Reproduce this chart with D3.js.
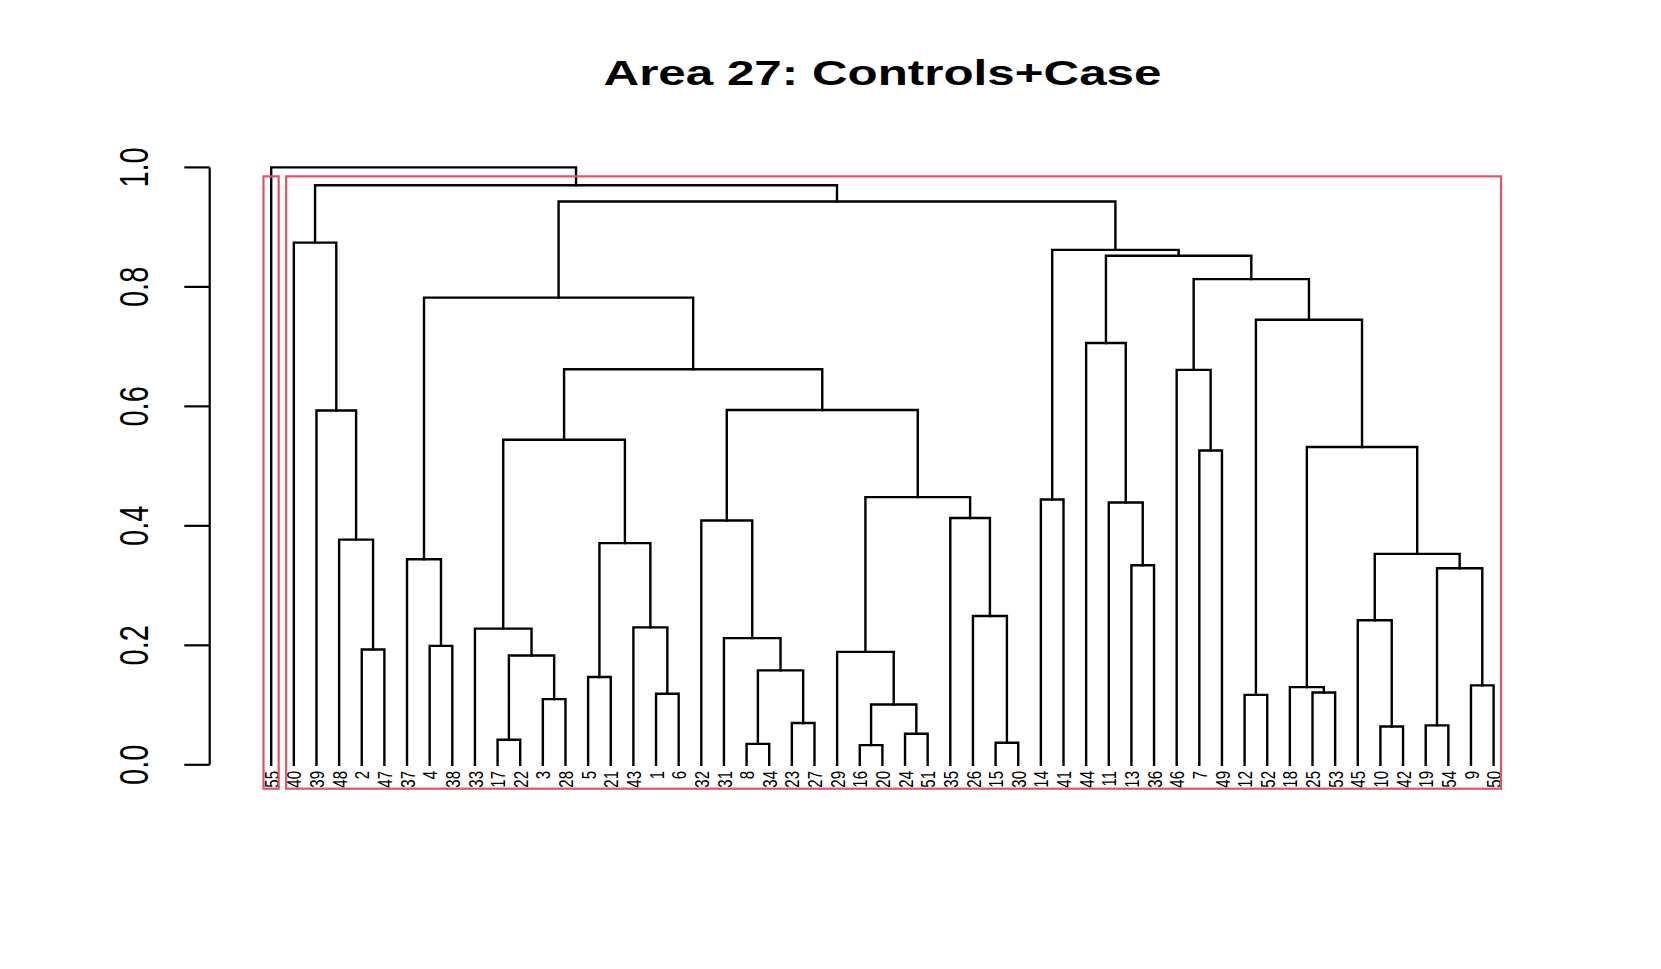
<!DOCTYPE html>
<html>
<head>
<meta charset="utf-8">
<script src="https://cdn.jsdelivr.net/npm/d3@7/dist/d3.min.js"></script>
<style>
  html, body { margin: 0; padding: 0; background: #fff; }
  svg { display: block; }
  text { font-family: "Liberation Sans", Arial, Helvetica, sans-serif; fill: #000; }
</style>
</head>
<body>
<svg id="chart" width="1661" height="969"></svg>
<script>
// leaves in the order they are drawn, left to right
const leafOrder = [55, 40, 39, 48, 2, 47, 37, 4, 38, 33, 17, 22, 3, 28, 5, 21, 43, 1, 6,
  32, 31, 8, 34, 23, 27, 29, 16, 20, 24, 51, 35, 26, 15, 30, 14, 41, 44, 11, 13, 36,
  46, 7, 49, 12, 52, 18, 25, 53, 45, 10, 42, 19, 54, 9, 50];

// hclust style merges: negative = leaf label, positive = earlier merge (1-based)
const mergeLeft = [-16, -17, -8, -15, -24, -10, -19, -23, -3, -12, -1, -25, -18, -9, -5,
  3, 2, 1, -29, -2, -4, -31, -33, -43, -45, -26, 7, -13, -37, 25, 15, -48, -32, -35,
  -11, -14, 19, -7, 13, 23, -39, 33, -46, 40, -44, 10, 29, 43, 45, 36, -40, 47, 51, -55];
const mergeRight = [-20, -22, -34, -30, -51, -42, -54, -27, -28, -52, -6, -53, 12, -50, -21,
  8, 9, 5, 18, -47, -38, 16, 17, 11, 6, 4, 14, -36, 21, 27, 24, 20, 22, 26,
  28, -41, 34, -49, 30, 31, 32, 37, 38, 42, 35, 39, 44, 46, 48, 49, 41, 50, 52, 53];
const mergeHeight = [0.033, 0.042, 0.035, 0.037, 0.052, 0.064, 0.066, 0.070, 0.110, 0.117,
  0.119, 0.121, 0.130, 0.133, 0.147, 0.158, 0.183, 0.101, 0.189, 0.193, 0.199, 0.212,
  0.228, 0.230, 0.242, 0.249, 0.329, 0.334, 0.344, 0.353, 0.371, 0.377, 0.409, 0.413,
  0.439, 0.444, 0.448, 0.526, 0.532, 0.544, 0.593, 0.594, 0.661, 0.662, 0.706, 0.745,
  0.782, 0.813, 0.852, 0.862, 0.874, 0.943, 0.970, 1.000];

const yTicks = [0, 0.2, 0.4, 0.6, 0.8, 1.0];
const title = 'Area 27: Controls+Case';
const nClusters = 2;

// the reference is stretched sideways, so text gets a horizontal scale
const stretch = 1.4;

const svg = d3.select('#chart');

const xScale = d3.scaleLinear().domain([1, leafOrder.length]).range([271.2, 1493.6]);
const yScale = d3.scaleLinear().domain([0, 1]).range([764.8, 167.4]);
const plotBottom = yScale(-0.04);

// leaf positions (1-based slot in leafOrder)
const leafPos = new Map(leafOrder.map((lab, i) => [lab, i + 1]));

// node positions, computed bottom-up like plot.hclust
const nodes = [];
const refPos = (r) => r < 0 ? { x: leafPos.get(-r), h: 0 } : nodes[r - 1];

mergeHeight.forEach((h, i) => {
  const a = refPos(mergeLeft[i]);
  const b = refPos(mergeRight[i]);
  nodes.push({ x: (a.x + b.x) / 2, h, left: a, right: b });
});

const pathFn = (n) => {
  const y = yScale(n.h);
  return `M${xScale(n.left.x)},${yScale(n.left.h)}V${y}H${xScale(n.right.x)}V${yScale(n.right.h)}`;
};

svg.append('g')
  .attr('class', 'tree')
  .selectAll('path')
  .data(nodes)
  .join('path')
  .attr('d', pathFn)
  .attr('fill', 'none')
  .attr('stroke', '#000')
  .attr('stroke-width', 2.4)
  .attr('stroke-linecap', 'square');

// leaf labels, rotated to read bottom-up
svg.append('g')
  .attr('class', 'labels')
  .selectAll('text')
  .data(leafOrder)
  .join('text')
  .attr('transform', (d, i) => `translate(${xScale(i + 1)},771) scale(${stretch},1) rotate(-90)`)
  .attr('text-anchor', 'end')
  .attr('dy', '0.36em')
  .attr('font-size', 15)
  .text((d) => d);

// rect.hclust style boxes around the top k clusters
const sorted = mergeHeight.slice().sort((a, b) => a - b);
const n = sorted.length;
const cutTop = (sorted[n - nClusters] + sorted[n - nClusters + 1]) / 2;
const root = nodes[nodes.length - 1];
const groups = [];
const collect = (node, k) => {
  if (k > 1 && node.h > 0 && node.h > sorted[n - nClusters]) {
    collect(node.left, k - 1);
    collect(node.right, k - 1);
  } else {
    groups.push(node);
  }
};
collect(root, nClusters);

// leaf span of each group
const span = (node) => node.h === 0 || !node.left
  ? [node.x, node.x]
  : [span(node.left)[0], span(node.right)[1]];

svg.append('g')
  .attr('class', 'clusters')
  .selectAll('rect')
  .data(groups.map(span))
  .join('rect')
  .attr('x', (d) => xScale(d[0] - 0.34))
  .attr('y', yScale(cutTop))
  .attr('width', (d) => xScale(d[1] + 0.33) - xScale(d[0] - 0.34))
  .attr('height', plotBottom - yScale(cutTop))
  .attr('fill', 'none')
  .attr('stroke', '#DF536B')
  .attr('stroke-width', 2.2);

// y axis, R style
const axisX = 209.7;
const yAxis = svg.append('g').attr('class', 'y-axis');
yAxis.append('line')
  .attr('x1', axisX).attr('x2', axisX)
  .attr('y1', yScale(0)).attr('y2', yScale(1))
  .attr('stroke', '#000').attr('stroke-width', 2.2);
yAxis.selectAll('line.tick')
  .data(yTicks)
  .join('line')
  .attr('class', 'tick')
  .attr('x1', axisX).attr('x2', 184.3)
  .attr('y1', (d) => yScale(d)).attr('y2', (d) => yScale(d))
  .attr('stroke', '#000').attr('stroke-width', 2.2);
yAxis.selectAll('text')
  .data(yTicks)
  .join('text')
  .attr('transform', (d) => `translate(148,${yScale(d)}) scale(${stretch},1) rotate(-90)`)
  .attr('text-anchor', 'middle')
  .attr('font-size', 29)
  .text((d) => d3.format('.1f')(d));

svg.append('text')
  .attr('transform', `translate(882.5,85) scale(1.41,1)`)
  .attr('text-anchor', 'middle')
  .attr('font-size', 35)
  .attr('font-weight', 'bold')
  .text(title);
</script>
</body>
</html>
